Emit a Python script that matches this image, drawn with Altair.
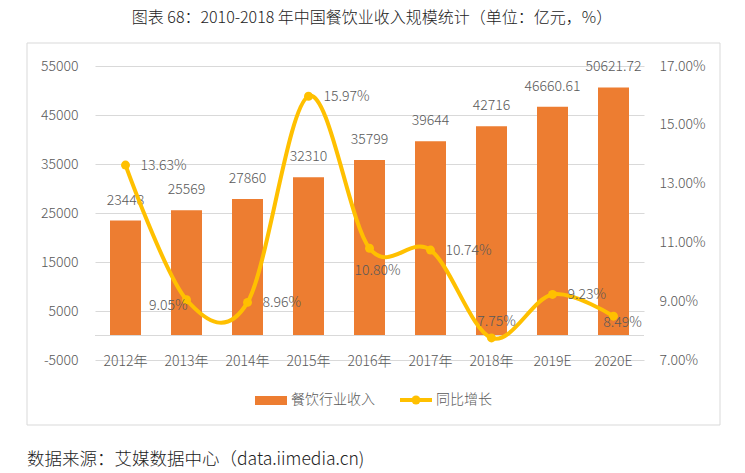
import altair as alt
import pandas as pd

years = ["2012年", "2013年", "2014年", "2015年", "2016年", "2017年", "2018年", "2019E", "2020E"]
revenue = [23448, 25569, 27860, 32310, 35799, 39644, 42716, 46660.61, 50621.72]
growth = [13.63, 9.05, 8.96, 15.97, 10.80, 10.74, 7.75, 9.23, 8.49]

left_ticks = [-5000, 5000, 15000, 25000, 35000, 45000, 55000]
right_ticks = [7, 9, 11, 13, 15, 17]

title_text = "图表 68：2010-2018 年中国餐饮业收入规模统计（单位：亿元，%）"
source_text = "数据来源：艾媒数据中心（data.iimedia.cn)"
legend_bar = "餐饮行业收入"
legend_line = "同比增长"

df = pd.DataFrame({"year": years, "revenue": revenue, "growth": growth})

FONT = "Noto Sans CJK SC"
W = 300
GRAY = "#595959"
BAR = "#ED7D31"
LINE = "#FFC000"
GRID = "#D9D9D9"

base = alt.Chart(df)
xenc = alt.X("year:N", sort=years, title=None,
             scale=alt.Scale(paddingInner=0, paddingOuter=0),
             axis=alt.Axis(labelAngle=0, domain=False, ticks=False, labelPadding=1,
                           labelBaseline="middle", labelFontSize=14, labelColor=GRAY,
                           labelFont=FONT, labelFontWeight=W, grid=False))

yl = alt.Y("revenue:Q", title=None,
           scale=alt.Scale(domain=[-5000, 55000], nice=False, zero=False),
           axis=alt.Axis(values=left_ticks, grid=True, gridColor=GRID, domain=False,
                         ticks=False, labelPadding=17, labelFontSize=14,
                         labelColor=GRAY, labelFont=FONT, labelFontWeight=W,
                         labelExpr="'' + datum.value"))

bars = base.mark_bar(color=BAR, size=31).encode(x=xenc, y=yl, y2=alt.datum(0))
bar_text = base.transform_calculate(lbl="'' + datum.revenue").mark_text(
    font=FONT, fontSize=14, fontWeight=W, color=GRAY, baseline="middle", dy=-20
).encode(x=xenc, y=yl, text="lbl:N")
zero_rule = base.mark_rule(color=GRID, strokeWidth=1).encode(
    y=alt.datum(0, scale=alt.Scale(domain=[-5000, 55000], nice=False, zero=False)))

left = alt.layer(bars, zero_rule, bar_text)

yr = alt.Y("growth:Q", title=None,
           scale=alt.Scale(domain=[7, 17], nice=False, zero=False),
           axis=alt.Axis(orient="right", values=right_ticks, grid=False, domain=False,
                         ticks=False, labelPadding=15, labelFontSize=14,
                         labelColor=GRAY, labelFont=FONT, labelFontWeight=W,
                         labelExpr="format(datum.value, '.2f') + '%'"))

line = base.mark_line(color=LINE, strokeWidth=4, interpolate="cardinal").encode(x=xenc, y=yr)
pts = base.mark_point(color=LINE, filled=True, opacity=1, size=80).encode(x=xenc, y=yr)

lbase = base.transform_calculate(lbl="format(datum.growth, '.2f') + '%'")
def glabel(sel, align, dx, dy):
    return lbase.transform_filter(
        alt.FieldOneOfPredicate(field="year", oneOf=sel)
    ).mark_text(font=FONT, fontSize=14, fontWeight=W, color=GRAY, baseline="middle",
                align=align, dx=dx, dy=dy).encode(x=xenc, y=yr, text="lbl:N")

gl = [
    glabel(["2012年", "2014年", "2015年", "2017年", "2019E"], "left", 15, 1),
    glabel(["2013年"], "right", 1, 6),
    glabel(["2016年"], "center", 8, 23),
    glabel(["2018年"], "center", 5, -16),
    glabel(["2020E"], "center", 9, 7),
]
right = alt.layer(line, pts, *gl)

one = alt.Chart(alt.Data(values=[{"a": 1}]))
frame = one.mark_rect(fill=None, stroke=GRID, strokeWidth=1).encode(
    x=alt.value(-68), x2=alt.value(625), y=alt.value(-23), y2=alt.value(359))
title = one.mark_text(font=FONT, fontSize=16, fontWeight=W, color="#222222", align="center",
                      baseline="middle").encode(
    x=alt.value(277), y=alt.value(-48), text=alt.value(title_text))
source = one.mark_text(font=FONT, fontSize=17.5, fontWeight=W, color="#222222", align="left",
                       baseline="middle").encode(
    x=alt.value(-68), y=alt.value(394), text=alt.value(source_text))
leg_rect = one.mark_rect(color=BAR).encode(
    x=alt.value(160), x2=alt.value(192), y=alt.value(330), y2=alt.value(339))
leg_t1 = one.mark_text(font=FONT, fontSize=14, fontWeight=W, color=GRAY, align="left",
                       baseline="middle").encode(
    x=alt.value(196), y=alt.value(334), text=alt.value(legend_bar))
leg_line = one.mark_rule(color=LINE, strokeWidth=4).encode(
    x=alt.value(305), x2=alt.value(337), y=alt.value(334))
leg_pt = one.mark_point(color=LINE, filled=True, opacity=1, size=80).encode(
    x=alt.value(321), y=alt.value(334))
leg_t2 = one.mark_text(font=FONT, fontSize=14, fontWeight=W, color=GRAY, align="left",
                       baseline="middle").encode(
    x=alt.value(341), y=alt.value(334), text=alt.value(legend_line))

deco = alt.layer(frame, title, source, leg_rect, leg_t1, leg_line, leg_pt, leg_t2)

chart = alt.layer(left, right, deco).resolve_scale(y="independent").properties(
    width=549, height=294,
    padding={"left": 95, "top": 66, "right": 101, "bottom": 113},
    autosize=alt.AutoSizeParams(type="none"),
    background="white",
).configure_view(stroke=None)

chart.save("out.html", embed_options={"renderer": "svg", "actions": False})
